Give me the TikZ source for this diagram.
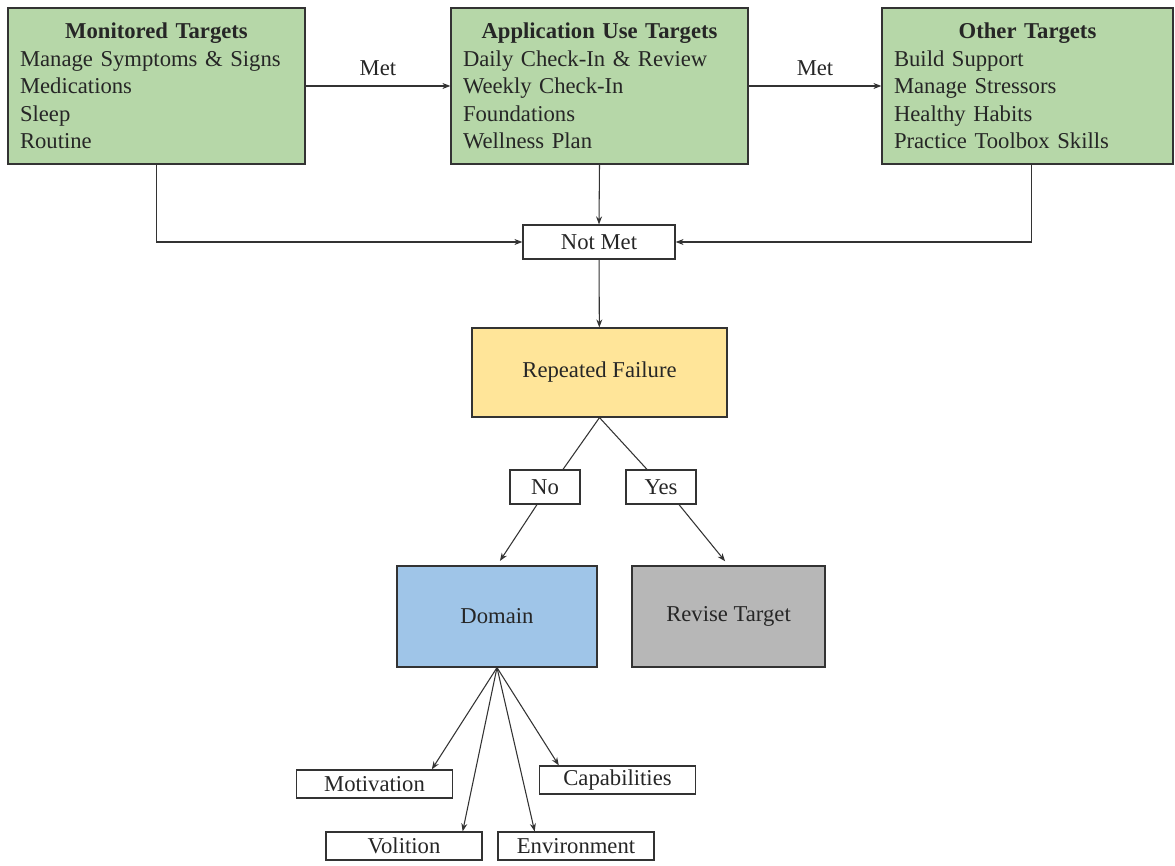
\documentclass[tikz,border=0pt]{standalone}
\usepackage{fontspec}
\setmainfont{Liberation Serif}
\usetikzlibrary{arrows.meta}
\definecolor{targetgreen}{HTML}{B6D7A8}
\definecolor{failyellow}{HTML}{FFE599}
\definecolor{domainblue}{HTML}{9FC5E8}
\definecolor{revisegray}{HTML}{B7B7B7}
\definecolor{edgegray}{HTML}{333333}
\tikzset{font=\fontsize{17}{20.6}\selectfont}
\tikzset{box/.style={draw=edgegray, line width=0.9pt, rectangle, inner sep=0pt, text=black!85}}
\tikzset{targetbox/.style={box, fill=targetgreen, minimum height=117pt, inner xsep=9pt, text width=#1, align=left}}
\tikzset{tag/.style={box, fill=white, minimum height=25.5pt}}
\tikzset{factor/.style={box, fill=white, minimum width=117pt, minimum height=21pt}}
\tikzset{metlabel/.style={above=4pt, text=black!85}}
\tikzset{link/.style={draw=black!80, line width=0.8pt}}
\tikzset{arrow/.style={link, -{Stealth[length=6pt,width=4.5pt]}}}

\begin{document}
\begin{tikzpicture}[x=0.75pt, y=-0.75pt]
  \useasboundingbox (0,0) rectangle (1175,866);

  % target groups
  \node[targetbox=204.75pt] (mon) at (156.5,86) {\makebox[\hsize]{\bfseries Monitored Targets}\\
    Manage Symptoms \& Signs\\ Medications\\ Sleep\\ Routine};
  \node[targetbox=204.75pt] (app) at (599.5,86) {\makebox[\hsize]{\bfseries Application Use Targets}\\
    Daily Check-In \& Review\\ Weekly Check-In\\ Foundations\\ Wellness Plan};
  \node[targetbox=200.25pt] (oth) at (1027.5,86) {\makebox[\hsize]{\bfseries Other Targets}\\
    Build Support\\ Manage Stressors\\ Healthy Habits\\ Practice Toolbox Skills};

  \draw[arrow] (mon) -- node[metlabel] (met1) {Met} (app);
  \draw[arrow] (app) -- node[metlabel] (met2) {Met} (oth);

  \node[tag, minimum width=114pt] (nm) at (599,242) {Not Met};
  \draw[arrow] (mon.south) |- (nm.west);
  \draw[arrow] (app.south) -- (nm.north);
  \draw[arrow] ([xshift=3pt]oth.south) |- (nm.east);

  \node[box, fill=failyellow, minimum width=191.25pt, minimum height=66.75pt] (rf) at (599.5,372.5) {Repeated Failure};
  \draw[arrow] (nm) -- (rf);

  \node[tag, minimum width=52.5pt] (no) at (545,487) {No};
  \node[tag, minimum width=52.5pt] (yes) at (661,487) {Yes};
  \draw[link] (rf.south) -- ([xshift=13.5pt]no.north);
  \draw[link] (rf.south) -- ([xshift=-10.5pt]yes.north);

  \node[box, fill=domainblue, minimum width=150pt, minimum height=75.75pt] (dom) at (497,616.5) {Domain};
  \node[box, fill=revisegray, minimum width=144.75pt, minimum height=75.75pt] (rev) at (728.5,616.5) {Revise Target};
  \draw[arrow, shorten >=4pt] ([xshift=-6pt]no.south) -- (dom.north);
  \draw[arrow, shorten >=4pt] ([xshift=13.5pt]yes.south) -- (rev.north);

  % domain factors
  \node[factor] (mot) at (374.5,784) {Motivation};
  \node[factor] (vol) at (404,846) {Volition};
  \node[factor] (env) at (576,846) {Environment};
  \node[factor] (cap) at (617.5,780) {Capabilities};
  \foreach \f/\s in {mot/43pt, vol/44pt, env/-31pt, cap/-44pt}
    \draw[arrow] (dom.south) -- ([xshift=\s]\f.north);
\end{tikzpicture}
\end{document}
